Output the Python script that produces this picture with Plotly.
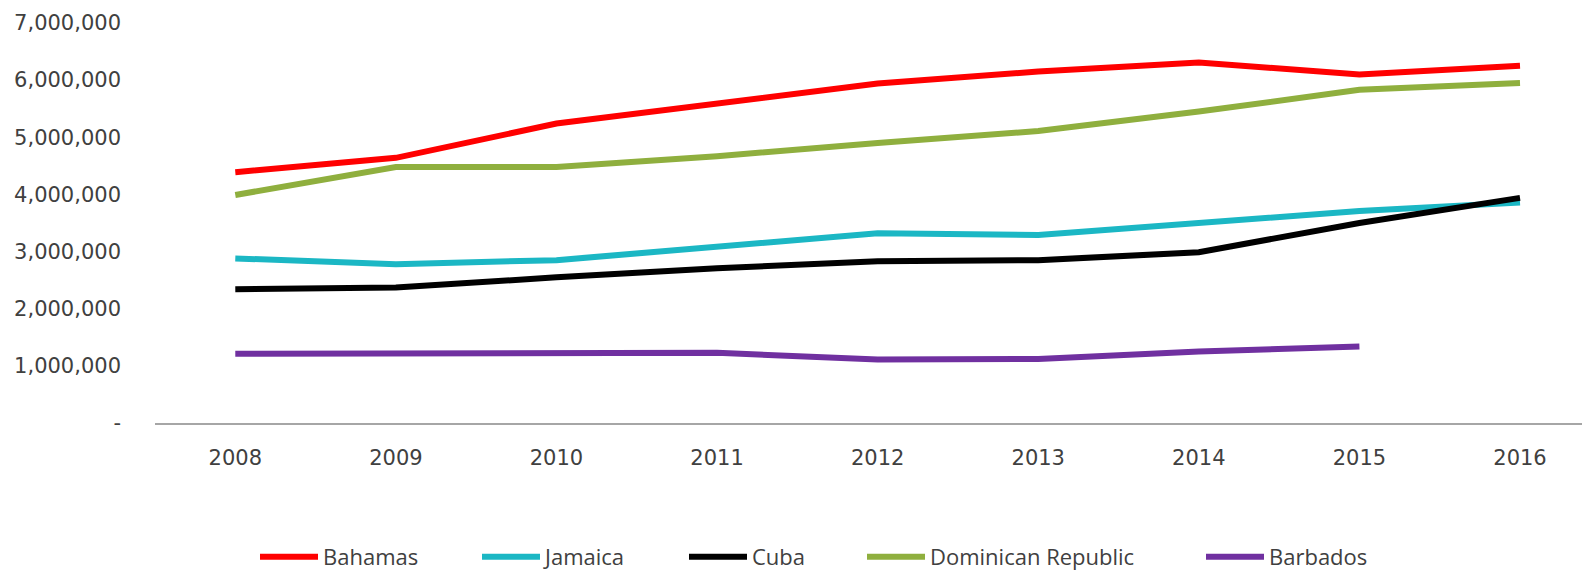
import plotly.graph_objects as go

years = ["2008", "2009", "2010", "2011", "2012", "2013", "2014", "2015", "2016"]
bahamas = [4390000, 4640000, 5240000, 5590000, 5940000, 6150000, 6310000, 6100000, 6250000]
jamaica = [2880000, 2780000, 2850000, 3090000, 3320000, 3290000, 3510000, 3710000, 3860000]
cuba = [2340000, 2370000, 2550000, 2710000, 2830000, 2850000, 2990000, 3500000, 3940000]
dominican = [3990000, 4480000, 4480000, 4670000, 4900000, 5110000, 5450000, 5830000, 5950000]
barbados = [1210000, 1210000, 1230000, 1230000, 1110000, 1120000, 1250000, 1340000, None]

series_names = ["Bahamas", "Jamaica", "Cuba", "Dominican Republic", "Barbados"]
series_values = [bahamas, jamaica, cuba, dominican, barbados]
colors = ["#FF0000", "#1BB7C4", "#000000", "#8FAF3E", "#7030A0"]

y_tickvals = [0, 1000000, 2000000, 3000000, 4000000, 5000000, 6000000, 7000000]
y_ticktext = ["-", "1,000,000", "2,000,000", "3,000,000", "4,000,000", "5,000,000", "6,000,000", "7,000,000"]

W, H = 1582, 574
legend_ids = ["legend", "legend2", "legend3", "legend4", "legend5"]
legend_left_px = [255, 477, 684, 862, 1201]

fig = go.Figure()
for name, vals, col, lid in zip(series_names, series_values, colors, legend_ids):
    fig.add_trace(go.Scatter(
        x=years, y=vals, name=name, mode="lines",
        line=dict(color=col, width=6),
        connectgaps=False, legend=lid,
    ))

legend_common = dict(
    orientation="h", xref="container", yref="container",
    xanchor="left", yanchor="middle", y=(H - 557) / H,
    font=dict(family="Open Sans", size=22, color="#404040"),
    itemwidth=58, bgcolor="rgba(0,0,0,0)", borderwidth=0,
)
layout_legends = {}
for lid, px in zip(legend_ids, legend_left_px):
    layout_legends[lid] = dict(legend_common, x=px / W)

fig.update_layout(
    width=W, height=H,
    paper_bgcolor="white", plot_bgcolor="white",
    margin=dict(l=155, r=0, t=23, b=151),
    font=dict(family="DejaVu Sans", color="#404040", size=21),
    showlegend=True,
    **layout_legends,
)
fig.update_xaxes(
    type="category", range=[-0.5, 8.386],
    showgrid=False, showline=True, linecolor="#A6A6A6", linewidth=2,
    ticks="", ticklabelstandoff=15,
    tickfont=dict(family="DejaVu Sans", size=21, color="#404040"),
)
fig.update_yaxes(
    range=[0, 7000000], showgrid=False, showline=False, zeroline=False,
    tickvals=y_tickvals, ticktext=y_ticktext, ticks="",
    ticklabelstandoff=33,
    tickfont=dict(family="DejaVu Sans", size=21, color="#404040"),
)

fig.write_html(
    "out.html",
    config={"displayModeBar": False},
    post_script=(
        "document.documentElement.style.overflow='hidden';"
        "document.body.style.margin='0';document.body.style.overflow='hidden';"
    ),
)
